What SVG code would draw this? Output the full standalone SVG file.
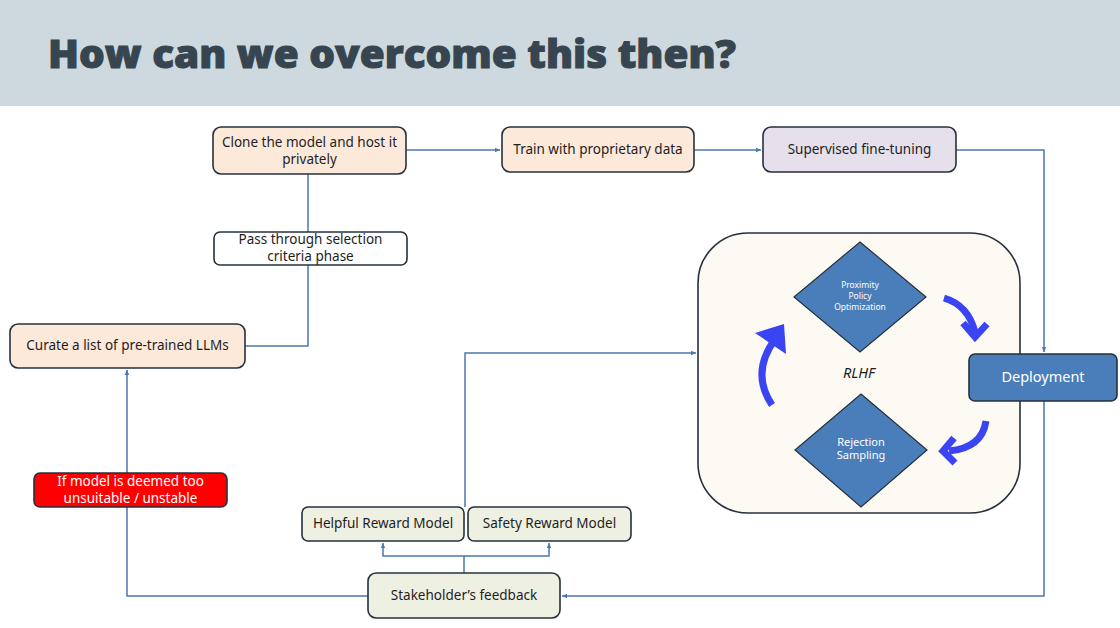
<svg xmlns="http://www.w3.org/2000/svg" width="1120" height="628" viewBox="0 0 1120 628">
<style>
.box{stroke:#26303c;stroke-width:1.6}
.t{font-family:"Noto Sans","Liberation Sans",sans-serif;font-size:13.5px;fill:#1e1e1e;text-anchor:middle}
.w{fill:#ffffff}
.s85{font-size:8.5px}
.s105{font-size:11px}
.s14{font-size:14.5px}
.c{fill:none;stroke:#4a78b0;stroke-width:1.5}
.ba{fill:none;stroke:#3b44f2;stroke-width:7}
</style>
<defs>
<marker id="ah" markerWidth="6" markerHeight="6" refX="5" refY="3" orient="auto" markerUnits="userSpaceOnUse">
<path d="M0,0.8 L5,3 L0,5.2 Z" fill="#4a78b0"/>
</marker>
</defs>
<rect x="0" y="0" width="1120" height="106" fill="#cdd9de"/>
<rect x="0" y="106" width="1120" height="522" fill="#ffffff"/>
<text x="48" y="68" font-family="'Open Sans',Lato,sans-serif" font-weight="800" font-size="38" fill="#36454f" stroke="#36454f" stroke-width="1" textLength="688" lengthAdjust="spacingAndGlyphs">How can we overcome this then?</text>

<g id="rlhf">
<rect x="698" y="233" width="322" height="280" rx="50" fill="#fdfaf4" stroke="#26303c" stroke-width="1.6"/>
<text x="859" y="378" class="t s14" font-style="italic">RLHF</text>
</g>

<g id="connectors">
<path class="c" d="M406,150 H500" marker-end="url(#ah)"/>
<path class="c" d="M694,150 H761" marker-end="url(#ah)"/>
<path class="c" d="M956,150 H1044 V352" marker-end="url(#ah)"/>
<path class="c" d="M1044,401 V596 H562" marker-end="url(#ah)"/>
<path class="c" d="M368,596 H127 V370" marker-end="url(#ah)"/>
<path class="c" d="M245,346 H308 V265 M308,232 V174"/>
<path class="c" d="M464,573 V556 H383 V543" marker-end="url(#ah)"/>
<path class="c" d="M464,556 H549 V543" marker-end="url(#ah)"/>
<path class="c" d="M465,507 V353 H696" marker-end="url(#ah)"/>
</g>

<g id="clone"><rect class="box" x="213" y="127" width="193" height="47" rx="8" fill="#fde9da"/>
<text class="t" x="309.5" y="147">Clone the model and host it</text><text class="t" x="309.5" y="164">privately</text></g>
<g id="train"><rect class="box" x="502" y="127" width="192" height="45" rx="8" fill="#fde9da"/>
<text class="t" x="598" y="154">Train with proprietary data</text></g>
<g id="sft"><rect class="box" x="763" y="127" width="193" height="45" rx="8" fill="#e5e0ec"/>
<text class="t" x="859.5" y="154">Supervised fine-tuning</text></g>
<g id="pass"><rect class="box" x="214" y="232" width="193" height="33" rx="6" fill="#ffffff"/>
<text class="t" x="310.5" y="244">Pass through selection</text><text class="t" x="310.5" y="261">criteria phase</text></g>
<g id="curate"><rect class="box" x="10" y="324" width="235" height="44" rx="8" fill="#fde9da"/>
<text class="t" x="127.5" y="350">Curate a list of pre-trained LLMs</text></g>
<g id="unsuitable"><rect class="box" x="34" y="473" width="193" height="34" rx="6" fill="#ff0000"/>
<text class="t w" x="130.5" y="486">If model is deemed too</text><text class="t w" x="130.5" y="503">unsuitable / unstable</text></g>
<g id="helpful"><rect class="box" x="302" y="507" width="162" height="34" rx="6" fill="#eef0e2"/>
<text class="t" x="383" y="528">Helpful Reward Model</text></g>
<g id="safety"><rect class="box" x="468" y="507" width="163" height="34" rx="6" fill="#eef0e2"/>
<text class="t" x="549.5" y="528">Safety Reward Model</text></g>
<g id="stakeholder"><rect class="box" x="368" y="573" width="192" height="45" rx="8" fill="#eef0e2"/>
<text class="t" x="464" y="600">Stakeholder’s feedback</text></g>
<g id="deployment"><rect class="box" x="969" y="354" width="148" height="47" rx="6" fill="#4a7ebb"/>
<text class="t w s14" x="1043" y="382">Deployment</text></g>
<g id="ppo"><polygon points="860,242 926,297 860,352 794,297" fill="#4a7ebb" stroke="#26303c" stroke-width="1.2"/>
<text class="t w s85" x="860" y="288">Proximity</text><text class="t w s85" x="860" y="299">Policy</text><text class="t w s85" x="860" y="310">Optimization</text></g>
<g id="rejection"><polygon points="861,394 927,450 861,507 795,450" fill="#4a7ebb" stroke="#26303c" stroke-width="1.2"/>
<text class="t w s105" x="861" y="446">Rejection</text><text class="t w s105" x="861" y="459">Sampling</text></g>

<g id="cycle-arrows">
<path class="ba" d="M944,298 Q968,305 975,332"/>
<polyline class="ba" points="963,323 975,337 987,324" stroke-width="6"/>
<path class="ba" d="M986,421 Q982,448 949,451"/>
<polyline class="ba" points="954,438 943,451 955,463" stroke-width="6"/>
<path class="ba" d="M772,405 Q750,372 776,338" stroke-width="9"/>
<polygon points="784,324 755,333 786,354" fill="#3b44f2"/>
</g>
</svg>
